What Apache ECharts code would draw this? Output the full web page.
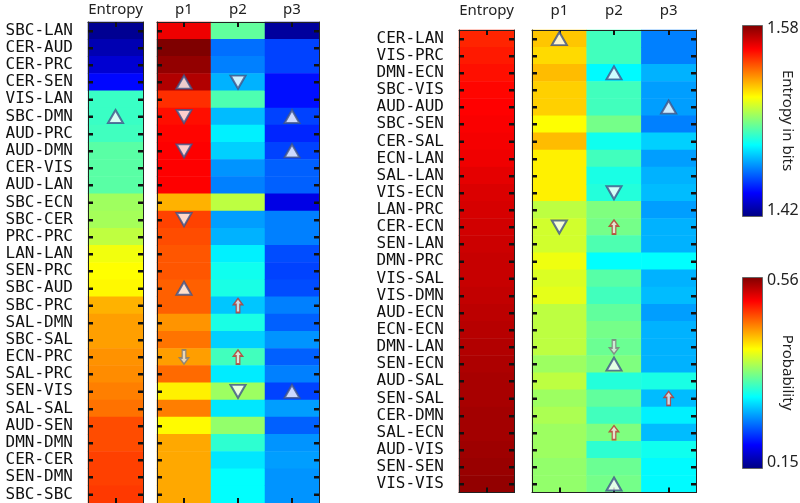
<!DOCTYPE html>
<html>
<head>
<meta charset="utf-8">
<script src="https://cdn.jsdelivr.net/npm/echarts@6/dist/echarts.min.js"></script>
<style>html,body{margin:0;padding:0;background:#fff}#c{width:800px;height:503px}</style>
</head>
<body>
<div id="c"></div>
<script>
// ---------- data ----------
const entropyCol = ['Entropy'];
const probCols = ['p1', 'p2', 'p3'];

const leftRows = ['SBC-LAN','CER-AUD','CER-PRC','CER-SEN','VIS-LAN','SBC-DMN','AUD-PRC','AUD-DMN','CER-VIS','AUD-LAN',
  'SBC-ECN','SBC-CER','PRC-PRC','LAN-LAN','SEN-PRC','SBC-AUD','SBC-PRC','SAL-DMN','SBC-SAL','ECN-PRC',
  'SAL-PRC','SEN-VIS','SAL-SAL','AUD-SEN','DMN-DMN','CER-CER','SEN-DMN','SBC-SBC'];
const leftEntropy = [1.423,1.428,1.433,1.441,1.489,1.489,1.490,1.494,1.494,1.494,
  1.505,1.506,1.510,1.518,1.520,1.521,1.532,1.535,1.535,1.537,
  1.538,1.540,1.542,1.548,1.548,1.550,1.550,1.551];
const leftP1 = [0.515,0.560,0.552,0.540,0.490,0.503,0.507,0.509,0.509,0.509,
  0.437,0.482,0.478,0.474,0.474,0.470,0.470,0.449,0.462,0.445,
  0.466,0.412,0.458,0.408,0.441,0.441,0.441,0.441];
const leftP2 = [0.343,0.246,0.253,0.273,0.335,0.277,0.298,0.285,0.261,0.253,
  0.380,0.265,0.273,0.298,0.310,0.314,0.281,0.314,0.285,0.330,
  0.296,0.367,0.294,0.363,0.322,0.294,0.304,0.304];
const leftP3 = [0.162,0.228,0.228,0.207,0.207,0.228,0.216,0.228,0.240,0.240,
  0.191,0.253,0.253,0.232,0.228,0.232,0.253,0.240,0.261,0.240,
  0.253,0.228,0.265,0.240,0.261,0.265,0.261,0.261];

const rightRows = ['CER-LAN','VIS-PRC','DMN-ECN','SBC-VIS','AUD-AUD','SBC-SEN','CER-SAL','ECN-LAN','SAL-LAN','VIS-ECN',
  'LAN-PRC','CER-ECN','SEN-LAN','DMN-PRC','VIS-SAL','VIS-DMN','AUD-ECN','ECN-ECN','DMN-LAN','SEN-ECN',
  'AUD-SAL','SEN-SAL','CER-DMN','SAL-ECN','AUD-VIS','SEN-SEN','VIS-VIS'];
const rightEntropy = [1.5544,1.556,1.5576,1.5592,1.560,1.5608,1.5616,1.5624,1.564,1.5656,
  1.5664,1.5672,1.568,1.5688,1.5688,1.5696,1.5704,1.5712,1.572,1.5728,
  1.5736,1.5736,1.5744,1.5744,1.5752,1.576,1.5768];
const rightP1 = [0.429,0.421,0.433,0.425,0.425,0.406,0.433,0.412,0.412,0.412,
  0.380,0.388,0.388,0.400,0.392,0.396,0.380,0.380,0.380,0.367,
  0.380,0.367,0.373,0.367,0.367,0.363,0.363];
const rightP2 = [0.330,0.330,0.302,0.330,0.330,0.351,0.310,0.330,0.314,0.318,
  0.355,0.351,0.335,0.304,0.339,0.330,0.343,0.351,0.347,0.355,
  0.318,0.343,0.330,0.355,0.322,0.347,0.351];
const rightP3 = [0.253,0.253,0.273,0.265,0.265,0.253,0.285,0.265,0.273,0.277,
  0.265,0.273,0.273,0.304,0.273,0.277,0.265,0.273,0.273,0.273,
  0.314,0.277,0.298,0.277,0.310,0.302,0.302];

// markers: [column, row, kind]
const leftMarkers = [
  ['Entropy','SBC-DMN','up'],
  ['p1','CER-SEN','up'],['p1','SBC-DMN','down'],['p1','AUD-DMN','down'],['p1','SBC-CER','down'],
  ['p1','SBC-AUD','up'],['p1','ECN-PRC','arrowDown'],
  ['p2','CER-SEN','down'],['p2','SBC-PRC','arrowUp'],['p2','ECN-PRC','arrowUp'],['p2','SEN-VIS','down'],
  ['p3','SBC-DMN','up'],['p3','AUD-DMN','up'],['p3','SEN-VIS','up']
];
const rightMarkers = [
  ['p1','CER-LAN','up'],['p1','CER-ECN','down'],
  ['p2','DMN-ECN','up'],['p2','VIS-ECN','down'],['p2','CER-ECN','arrowUp'],['p2','DMN-LAN','arrowDown'],
  ['p2','SEN-ECN','up'],['p2','SAL-ECN','arrowUp'],['p2','VIS-VIS','up'],
  ['p3','AUD-AUD','up'],['p3','SEN-SAL','arrowUp']
];

const entropyRange = [1.42, 1.58];
const probRange = [0.15, 0.56];
const entropyTicks = ['1.58', '1.42'];
const probTicks = ['0.56', '0.15'];

// ---------- styling ----------
const jet = ['#00007F','#0000FF','#007FFF','#00FFFF','#7FFF7F','#FFFF00','#FF7F00','#FF0000','#7F0000'];
const monoFont = 'DejaVu Sans Mono';
const sansFont = 'Noto Sans';
const arrowPath = 'path://M5,0L10,6L7,6L7,14L3,14L3,6L0,6Z';

const grids = [
  {left: 88, top: 22, width: 55, height: 481.6, cols: entropyCol, rows: leftRows, labels: true, topMargin: 5},
  {left: 157, top: 22, width: 162, height: 481.6, cols: probCols, rows: leftRows, labels: false, topMargin: 5},
  {left: 459, top: 30, width: 55, height: 462.6, cols: entropyCol, rows: rightRows, labels: true, topMargin: 12},
  {left: 532, top: 30, width: 164, height: 462.6, cols: probCols, rows: rightRows, labels: false, topMargin: 12}
];

function axisLine() { return {show: true, lineStyle: {color: '#222', width: 1}}; }
function tick() { return {show: true, inside: true, length: 5, interval: 0, alignWithLabel: true, lineStyle: {color: '#111', width: 2}}; }

const option = {
  animation: false,
  backgroundColor: '#fff',
  grid: grids.map(g => ({left: g.left, top: g.top, width: g.width, height: g.height, containLabel: false})),
  xAxis: [], yAxis: [], series: [],
  visualMap: [
    {type: 'continuous', show: false, min: entropyRange[0], max: entropyRange[1], dimension: 2,
     seriesIndex: [0, 4], inRange: {color: jet}},
    {type: 'continuous', show: false, min: probRange[0], max: probRange[1], dimension: 2,
     seriesIndex: [1, 5], inRange: {color: jet}}
  ],
  graphic: []
};

grids.forEach((g, gi) => {
  option.xAxis.push({type: 'category', gridIndex: gi, position: 'top', data: g.cols, z: 10,
    axisLine: axisLine(), axisTick: tick(), splitLine: {show: false},
    axisLabel: {show: true, margin: g.topMargin, fontFamily: sansFont, fontSize: 15, color: '#222'}});
  option.xAxis.push({type: 'category', gridIndex: gi, position: 'bottom', data: g.cols, z: 10,
    axisLine: axisLine(), axisTick: tick(), axisLabel: {show: false}, splitLine: {show: false}});
  option.yAxis.push({type: 'category', gridIndex: gi, position: 'left', inverse: true, data: g.rows, z: 10,
    axisLine: axisLine(), axisTick: tick(), splitLine: {show: false},
    axisLabel: {show: g.labels, interval: 0, margin: 15, fontFamily: monoFont, fontSize: 16, color: '#111'}});
  option.yAxis.push({type: 'category', gridIndex: gi, position: 'right', inverse: true, data: g.rows, z: 10,
    axisLine: axisLine(), axisTick: tick(), axisLabel: {show: false, interval: 0}, splitLine: {show: false}});
});

function heat(arrays) {
  const d = [];
  arrays.forEach((arr, ci) => arr.forEach((v, ri) => d.push([ci, ri, v])));
  return d;
}
const heatSeries = [
  heat([leftEntropy]),
  heat([leftP1, leftP2, leftP3]),
  heat([rightEntropy]),
  heat([rightP1, rightP2, rightP3])
];
function markerData(markers, rows, cols) {
  return markers.filter(m => cols.indexOf(m[0]) >= 0).map(m => {
    const k = m[2];
    const isArrow = k.indexOf('arrow') === 0;
    const down = k === 'down' || k === 'arrowDown';
    const arrowRed = k === 'arrowUp';
    return {
      value: [cols.indexOf(m[0]), rows.indexOf(m[1])],
      symbol: isArrow ? arrowPath : 'triangle',
      symbolSize: isArrow ? [9, 14] : [15, 13],
      symbolRotate: down ? 180 : 0,
      itemStyle: isArrow
        ? {color: arrowRed ? '#fbe3e3' : '#e6e6e6', borderColor: arrowRed ? '#b8342c' : '#7a7a7a', borderWidth: 1.5}
        : {color: '#ffffff', borderColor: '#3f5488', borderWidth: 2}
    };
  });
}
const order = [
  {grid: 0, heat: 0, markers: leftMarkers, rows: leftRows, cols: entropyCol},
  {grid: 1, heat: 1, markers: leftMarkers, rows: leftRows, cols: probCols},
  {grid: 2, heat: 2, markers: rightMarkers, rows: rightRows, cols: entropyCol},
  {grid: 3, heat: 3, markers: rightMarkers, rows: rightRows, cols: probCols}
];
const heatList = [], markList = [];
order.forEach(o => {
  heatList.push({type: 'heatmap', xAxisIndex: 2 * o.grid, yAxisIndex: 2 * o.grid, data: heatSeries[o.heat]});
  markList.push({type: 'scatter', xAxisIndex: 2 * o.grid, yAxisIndex: 2 * o.grid,
    data: markerData(o.markers, o.rows, o.cols), silent: true, z: 20});
});
option.series = [heatList[0], heatList[1], markList[0], markList[1], heatList[2], heatList[3], markList[2], markList[3]];

// colorbars
function colorbar(top, height, ticks, title) {
  const stops = jet.slice().reverse().map((c, i) => ({offset: i / (jet.length - 1), color: c}));
  option.graphic.push({type: 'rect', left: 742, top: top, shape: {width: 20, height: height},
    style: {fill: {type: 'linear', x: 0, y: 0, x2: 0, y2: 1, colorStops: stops}, stroke: '#666', lineWidth: 1}, silent: true});
  option.graphic.push({type: 'text', x: 767, y: top + 3, style: {text: ticks[0], fontFamily: sansFont, fontSize: 16, fill: '#222', textVerticalAlign: 'middle', verticalAlign: 'middle'}, silent: true});
  option.graphic.push({type: 'text', x: 767, y: top + height - 6, style: {text: ticks[1], fontFamily: sansFont, fontSize: 16, fill: '#222', textVerticalAlign: 'middle', verticalAlign: 'middle'}, silent: true});
  option.graphic.push({type: 'text', x: 787, y: top + height / 2, rotation: -Math.PI / 2,
    style: {text: title, fontFamily: sansFont, fontSize: 15, fill: '#222', align: 'center', verticalAlign: 'middle', textAlign: 'center', textVerticalAlign: 'middle'}, silent: true});
}
colorbar(25, 191, entropyTicks, 'Entropy in bits');
colorbar(277, 191, probTicks, 'Probability');

const chart = echarts.init(document.getElementById('c'), null, {renderer: 'canvas'});
chart.setOption(option);

// row tick marks on the inner side of each block's left and right edges,
// positioned through the library's own category scale
const tickGraphics = [];
order.forEach(o => {
  const g = grids[o.grid];
  o.rows.forEach((r, i) => {
    const p = chart.convertToPixel({xAxisIndex: 2 * o.grid, yAxisIndex: 2 * o.grid}, [0, i]);
    if (!p) return;
    const y = Math.round(p[1]) + 0.5;
    tickGraphics.push({type: 'line', z: 100, silent: true,
      shape: {x1: g.left, y1: y, x2: g.left + 5, y2: y}, style: {stroke: '#111', lineWidth: 2}});
    tickGraphics.push({type: 'line', z: 100, silent: true,
      shape: {x1: g.left + g.width - 5, y1: y, x2: g.left + g.width, y2: y}, style: {stroke: '#111', lineWidth: 2}});
  });
});
chart.setOption({graphic: option.graphic.concat(tickGraphics)});
</script>
</body>
</html>
